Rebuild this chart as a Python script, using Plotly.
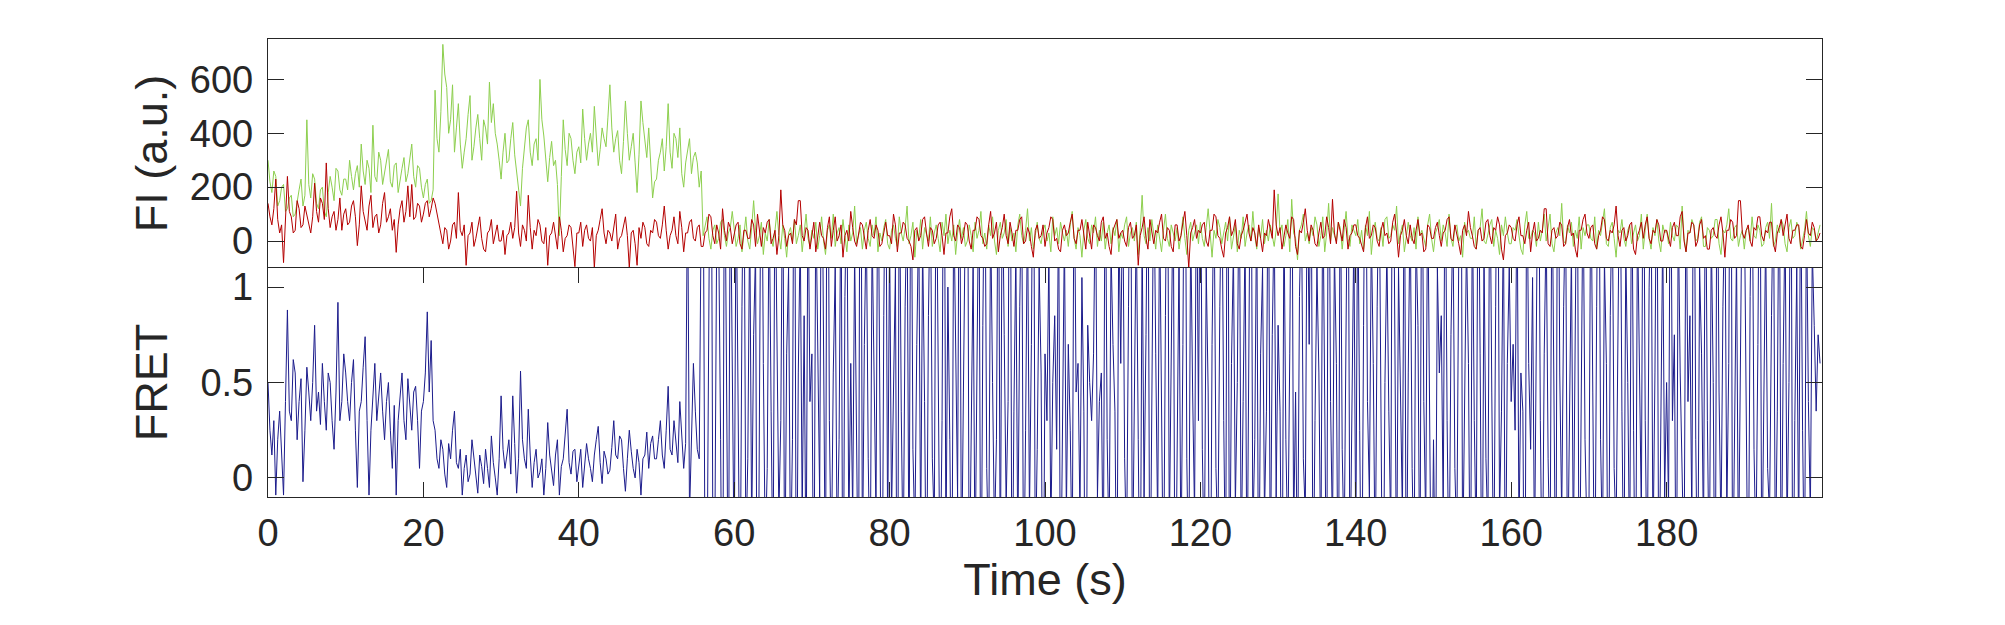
import plotly.graph_objects as pgo
from plotly.subplots import make_subplots

# ========= smFRET trace: donor / acceptor intensity + FRET efficiency =========
# values, one frame every 0.25 s (4 rows = 10 s)
frame_dt = 0.25
n_frames = 800
time_s = [i * frame_dt for i in range(n_frames)]

# donor (green) intensity, a.u.
fi_donor = [
    # 0-10 s
    300, 220, 180, 260, 240, 130, 150, 200, 210, 110,
    120, 160, 170, 90, 100, 150, 190, 230, 130, 170,
    450, 210, 160, 250, 230, 140, 120, 190, 200, 110,
    90, 180, 240, 200, 150, 270, 260, 190, 170, 230,
    # 10-20 s
    230, 190, 300, 240, 190, 250, 280, 200, 360, 260,
    210, 300, 270, 180, 430, 240, 220, 330, 300, 210,
    250, 290, 340, 220, 200, 280, 290, 180, 230, 270,
    310, 220, 250, 300, 360, 240, 200, 280, 270, 200,
    # 20-30 s
    160, 210, 230, 140, 150, 190, 560, 380, 330, 480,
    730, 620, 570, 400, 450, 580, 330, 420, 510, 360,
    270, 330, 380, 470, 540, 300, 350, 420, 470, 380,
    300, 450, 420, 360, 590, 440, 510, 400, 360, 300,
    # 30-40 s
    230, 330, 400, 290, 300, 380, 440, 320, 260, 200,
    130, 270, 350, 420, 450, 330, 280, 360, 380, 300,
    600, 450, 390, 300, 220, 310, 370, 280, 300, 210,
    20, 240, 450, 340, 280, 400, 380, 300, 250, 330,
    # 40-50 s
    350, 290, 490, 380, 300, 360, 400, 330, 500, 390,
    280, 340, 420, 380, 350, 460, 580, 420, 330, 380,
    410, 300, 250, 370, 520, 400, 300, 350, 400, 290,
    180, 320, 520, 440, 370, 310, 420, 300, 160, 220,
    # 50-60 s
    230, 300, 330, 380, 260, 350, 510, 330, 270, 400,
    380, 310, 420, 250, 200, 290, 340, 380, 250, 310,
    330, 290, 200, 260, 20, 60, 90, 10, -30, 40,
    60, -10, 10, 70, 80, 20, -20, 30, 50, 110,
    # 60-70 s
    30, -20, 10, 60, -40, 20, 90, 0, -30, 50,
    150, 40, -10, 20, 70, -50, 30, 0, 80, 10,
    -20, 40, 110, 20, -30, 60, 10, -60, 30, 50,
    0, 80, -10, 20, 60, -40, 30, 100, 10, -20,
    # 70-80 s
    40, 10, 70, -30, 20, 90, 0, -50, 40, 60,
    10, 100, -20, 30, 50, -10, 80, 20, -40, 60,
    0, 30, 130, -10, 20, 50, -30, 40, 70, 10,
    -20, 60, 20, 90, -40, 30, 0, 50, 80, -10,
    # 80-90 s
    -30, 40, 60, 10, -20, 90, 30, 0, 50, 130,
    -10, 20, 70, -60, 40, 10, 80, -30, 50, 20,
    0, 90, -20, 30, 60, 10, -40, 70, 20, 100,
    -10, 40, 0, 60, -50, 30, 80, 10, 50, -20,
    # 90-100 s
    0, 60, 20, -40, 70, 10, 40, 110, -10, 30,
    -30, 60, 20, 90, 0, -50, 40, 70, 10, 30,
    80, -20, 50, 0, 30, -40, 60, 100, 20, -10,
    40, 120, 0, 50, -30, 20, 70, 10, -10, 40,
    # 100-110 s
    60, 0, 30, -40, 90, 20, 50, -10, 70, 30,
    0, 40, -20, 60, 110, 10, -30, 50, 20, -60,
    40, 80, 10, -10, 60, 30, 90, -20, 40, 0,
    70, -30, 30, 60, -10, 50, 20, 80, -40, 30,
    # 110-120 s
    10, 60, 90, -20, 30, 50, 0, 70, -50, 40,
    170, 20, -10, 50, 0, 80, 30, -30, 60, 10,
    -40, 40, 100, 10, -20, 60, 30, 0, 50, -30,
    20, 90, 10, -50, 40, 70, 0, 30, 60, -10,
    # 120-130 s
    70, 10, -20, 50, 120, 30, -60, 40, 10, 80,
    50, -10, 30, 70, 0, 90, -30, 20, 60, -40,
    40, 10, 90, -20, 30, 60, 0, 110, 20, -30,
    50, 10, 80, -10, 40, 0, 60, 20, -20, 40,
    # 130-140 s
    175, 30, 60, -20, 20, 80, -40, 155, 30, 10,
    -70, 40, 60, 100, 0, 30, -10, 50, 20, 90,
    60, -20, 20, 90, -40, 30, 140, 0, 50, 20,
    0, 70, 50, -30, 30, 110, 10, -20, 60, 40,
    # 140-150 s
    20, 80, -10, 40, -30, 60, 20, 110, -50, 30,
    70, 10, 0, 50, -20, 80, 90, 10, 20, 60,
    40, 130, -10, 30, 60, -40, 10, 70, 20, 0,
    50, -30, 90, 20, 40, 10, -20, 60, 100, 10,
    # 150-160 s
    -40, 30, 50, 80, 0, 60, 30, -20, 100, 10,
    -20, 50, 60, 0, 20, -60, 70, 30, 40, 10,
    10, 90, -30, 40, 50, 120, 0, -10, 30, 60,
    80, -20, 40, 10, -50, 60, 20, 90, 30, -10,
    # 160-170 s
    -10, 50, 40, 80, 20, -30, -50, 60, 110, 10,
    10, 40, 30, -20, 70, 0, 40, 100, 0, 50,
    100, -10, -40, 30, 50, 20, 140, 0, -10, 60,
    30, 70, -20, 40, 10, 90, -30, 50, 20, 60,
    # 170-180 s
    60, 10, 0, 90, -30, 40, 20, 70, 120, -10,
    -20, 50, 70, 10, -60, 40, 30, 80, 10, -20,
    40, 60, -10, 30, 60, 0, 20, 100, -30, 40,
    100, 10, -30, 50, 20, 80, 0, -40, 60, 30,
    # 180-190 s
    40, -10, 70, 20, 0, 60, 50, -30, 130, 10,
    -40, 40, 30, 80, 60, 0, 10, 70, 90, -20,
    -20, 50, 40, 10, 20, 80, 80, -10, -50, 40,
    30, 60, 120, 10, 0, 50, 60, -20, 20, 40,
    # 190-200 s
    -30, 40, 50, 0, 90, 20, 10, 60, 40, -20,
    -10, 50, 70, 10, 140, -20, 0, 60, 30, 80,
    60, -10, -40, 50, 80, 10, 20, 70, 50, -30,
    0, 40, 110, 20, -20, 50, 40, 0, 30, 60,
]

# acceptor (red) intensity, a.u.
fi_acceptor = [
    # 0-10 s
    140, 90, 60, 120, 230, 80, 30, 60, -80, 100,
    240, 110, 90, 30, 40, 150, 120, 50, 60, 130,
    100, 70, 30, 90, 215, 110, 70, 160, 140, 80,
    290, 120, 50, 90, 110, 40, 80, 160, 40, 100,
    # 10-20 s
    120, 60, 70, 130, 150, 90, -17, 60, 205, 110,
    80, 40, 130, 170, 50, 90, 100, 30, 60, 140,
    180, 70, 90, 120, 40, 80, -42, 60, 120, 150,
    70, 110, 205, 90, 210, 80, 90, 140, 130, 70,
    # 20-30 s
    100, 140, 150, 90, 120, 160, 140, 100, 60, 20,
    -10, 50, 40, -30, 0, 60, 70, 10, 180, 40,
    20, 60, -90, 20, 30, 70, -20, 10, 50, 90,
    10, -30, -40, 30, 40, 80, -10, 20, 60, 0,
    # 30-40 s
    0, 40, -50, 20, 30, 70, 10, 50, 185, 30,
    -20, 60, 40, 0, 170, 50, -30, 40, 20, 80,
    60, 0, -10, 50, -90, 20, 30, 70, 10, -30,
    90, 40, -40, 10, 20, 60, 50, -20, -95, 30,
    # 40-50 s
    30, 70, -20, 40, 60, 10, 0, 50, -100, 20,
    40, 80, 120, 30, -10, 40, 30, 0, 60, 100,
    -30, 10, 20, 60, 90, 20, -100, 30, 40, -10,
    -90, 50, 10, 70, 50, -10, -20, 40, 30, 80,
    # 50-60 s
    70, 20, 10, 60, 130, 40, -30, 20, 40, 90,
    20, -10, 110, 50, -40, 30, 30, 70, 80, 10,
    0, 50, 60, -20, -20, 30, 40, 100, 90, 20,
    -10, 60, 30, -30, 120, 40, 0, 70, 50, -10,
    # 60-70 s
    20, 60, 70, -10, -30, 40, 40, 10, 10, 80,
    60, -20, 100, 30, -20, 50, 30, 70, 80, -10,
    10, 40, -50, 20, 190, 60, 40, -20, 20, 30,
    -10, 80, 60, 150, 150, 20, 0, 50, 40, -30,
    # 70-80 s
    30, 70, -40, 10, 70, 20, 10, -30, 50, 90,
    -20, 40, 90, 0, 20, 60, -60, 20, 40, 0,
    110, 50, 0, -20, 30, 70, 60, 10, -30, 40,
    80, 20, 10, 60, 40, -20, -10, 30, 70, 20,
    # 80-90 s
    20, -10, 100, 60, -40, 30, 30, 70, 60, 10,
    0, -20, -70, 40, 50, 0, 20, 80, 90, 30,
    -20, 50, 40, -10, 10, 60, 70, 20, -50, 30,
    30, 90, 120, 20, 0, 60, 50, -10, 20, 70,
    # 90-100 s
    60, 0, -30, 40, 40, 90, 80, 20, 10, -20,
    -10, 60, 110, 10, 30, 70, -40, 20, 50, 100,
    20, -10, 70, 30, -20, 40, 40, 80, 90, -10,
    0, 50, 30, -20, -60, 40, 60, 10, 20, 60,
    # 100-110 s
    -20, 30, 50, 90, 80, 0, 10, -30, -40, 40,
    60, 20, 30, 70, 100, 10, -10, 40, 40, 80,
    20, -30, 70, 10, -30, 60, 50, 20, 0, 70,
    90, 10, 30, -20, -50, 40, 60, 80, 10, 30,
    # 110-120 s
    40, 0, -20, 50, 70, 10, 20, 60, -90, 20,
    50, 90, 10, -30, 80, 30, -10, 40, 30, 70,
    100, 10, 0, 50, 40, -20, -40, 60, 60, 0,
    20, 70, 110, 20, -100, 30, 50, 80, 10, 40,
    # 120-130 s
    30, 60, 70, 0, -20, 40, 40, 100, 90, 20,
    10, -30, -60, 30, 50, 90, 20, 40, 80, -10,
    -30, 20, 40, 70, 100, 30, 0, 50, 30, -20,
    60, 10, -40, 30, 20, 80, 50, 10, 190, 60,
    # 130-140 s
    20, 50, -30, 10, 60, 30, 10, 90, 80, -20,
    -50, 40, 30, 70, 120, 40, 0, 60, 40, -10,
    -20, 30, 70, 10, 20, 90, 50, -10, 155, 30,
    -10, 70, 40, 0, 80, 50, -30, 20, 30, 60,
    # 140-150 s
    60, 20, 10, -20, -40, 50, 90, 10, 20, 60,
    50, 0, -20, 40, 70, 20, 30, -10, 0, 70,
    100, 30, -60, 20, 40, 80, 20, -10, 60, 10,
    -10, 40, 80, 20, 30, -40, -30, 60, 50, 10,
    # 150-160 s
    10, 50, 70, 20, -20, 30, 40, 80, 90, 10,
    0, 60, 30, -10, -50, 40, 60, 20, 110, 50,
    20, -20, -30, 40, 50, 0, 10, 70, 80, 20,
    -10, 50, 40, 90, 60, -30, -70, 20, 30, 60,
    # 160-170 s
    50, 10, 0, 60, 90, 20, 20, -10, 40, 70,
    -40, 30, 70, 0, 10, 40, 30, 120, 120, -10,
    -20, 40, 50, 10, 20, 70, 60, -20, -10, 50,
    80, 20, 30, -30, -60, 40, 40, 80, 100, 30,
    # 170-180 s
    10, 50, 60, -10, -30, 20, 40, 90, 80, 10,
    0, 40, 30, 60, 130, 20, -20, 40, 50, 0,
    20, 60, 70, -30, -50, 20, 40, 70, 10, 60,
    90, 10, -10, 40, 30, 80, 60, 0, 0, 40,
    # 180-190 s
    40, 10, -20, 50, 70, 20, 20, 90, 110, 0,
    -40, 30, 30, 70, 60, -20, 0, 60, 80, 10,
    20, -30, -30, 40, 50, 20, 10, 60, 90, 30,
    -60, 40, 40, 80, 70, 10, 20, 150, 150, 30,
    # 190-200 s
    10, 40, 60, 0, -20, 50, 40, 90, 90, 20,
    0, 40, 30, 70, 70, -10, -40, 30, 50, 80,
    20, 60, 100, 10, -10, 40, 40, 60, 60, -20,
    -30, 20, 80, 30, 20, 70, 50, 0, 10, 30,
]

# apparent FRET efficiency (blue)
fret = [
    # 0-10 s
    0.50, 0.25, 0.12, 0.30, -0.09, 0.20, 0.35, 0.10, -0.09, 0.40,
    0.88, 0.35, 0.30, 0.62, 0.55, 0.20, 0.40, 0.52, -0.02, 0.25,
    0.58, 0.45, 0.30, 0.50, 0.80, 0.35, 0.45, 0.28, 0.60, 0.40,
    0.25, 0.55, 0.50, 0.30, 0.15, 0.45, 0.92, 0.30, 0.40, 0.65,
    # 10-20 s
    0.55, 0.40, 0.30, 0.50, 0.62, 0.25, -0.05, 0.35, 0.40, 0.58,
    0.74, 0.30, -0.09, 0.25, 0.45, 0.60, 0.30, 0.42, 0.55, 0.35,
    0.20, 0.40, 0.50, 0.25, 0.05, 0.38, -0.09, 0.30, 0.45, 0.55,
    0.30, 0.20, 0.52, 0.40, 0.25, 0.45, 0.48, 0.30, 0.05, 0.35,
    # 20-30 s
    0.40, 0.55, 0.87, 0.45, 0.72, 0.30, 0.25, 0.10, 0.05, 0.20,
    0.15, 0.02, -0.05, 0.18, 0.10, 0.25, 0.35, 0.08, 0.05, 0.15,
    -0.09, 0.05, 0.12, -0.02, 0.02, 0.20, 0.10, 0.00, -0.08, 0.12,
    0.06, -0.03, 0.15, 0.05, -0.05, 0.22, 0.08, 0.00, -0.09, 0.10,
    # 30-40 s
    0.43, 0.15, 0.05, 0.12, 0.20, 0.02, 0.43, 0.18, -0.08, 0.10,
    0.56, 0.20, 0.10, 0.05, 0.36, 0.12, -0.05, 0.08, 0.15, 0.00,
    0.03, 0.10, -0.09, 0.05, 0.29, 0.12, 0.05, -0.04, 0.12, 0.20,
    -0.09, 0.06, 0.10, 0.25, 0.36, 0.08, 0.02, 0.14, 0.15, -0.02,
    # 40-50 s
    0.08, 0.15, -0.05, 0.06, 0.18, 0.10, 0.05, -0.02, 0.12, 0.20,
    0.27, 0.08, -0.03, 0.14, 0.10, 0.02, 0.04, 0.16, 0.30, 0.12,
    0.10, 0.22, 0.20, 0.05, -0.07, 0.10, 0.25, 0.14, 0.05, 0.00,
    0.15, 0.08, -0.09, 0.10, 0.12, 0.24, 0.05, 0.18, 0.22, 0.10,
    # 50-60 s
    0.10, 0.20, 0.30, 0.12, 0.05, 0.25, 0.48, 0.15, 0.12, 0.30,
    0.20, 0.08, 0.40, 0.22, 0.05, 0.18, 1.60, -0.20, 0.25, 0.60,
    0.35, 0.15, 0.10, 1.40, 1.80, -0.60, -0.60, 0.70, 2.50, -0.30,
    -0.40, 1.30, 1.30, 0.20, -1.20, 2.00, 0.40, -0.80, 1.70, 0.60,
    # 60-70 s
    -0.50, 1.60, 0.30, -0.80, 0.90, 1.90, -0.40, 0.10, 1.40, -0.30,
    0.75, 1.20, -1.50, 0.45, 2.20, 0.60, -0.40, 0.05, 1.50, 0.35,
    -0.60, 1.70, 0.80, -0.20, 0.30, 1.80, -0.70, 0.65, 1.10, -0.50,
    0.20, 2.40, -1.00, 0.55, 1.30, -0.20, 0.85, -0.60, 1.60, 0.40,
    # 70-80 s
    0.65, -0.90, 1.50, 0.80, -0.10, 2.10, 0.40, -0.70, 2.80, 0.30,
    -0.50, 0.55, 1.10, -0.40, 0.20, 1.70, -1.10, 0.95, 1.60, -0.30,
    0.60, -0.20, 1.20, 0.25, -0.80, 3.00, -0.50, 0.70, 1.40, 0.10,
    -0.60, 1.30, 0.45, -0.20, 1.90, 0.50, -1.20, 0.85, 2.00, -0.35,
    # 80-90 s
    1.30, -0.20, 0.50, 1.10, -1.40, 1.80, 0.35, -0.50, 0.90, 1.50,
    -0.60, 2.10, 0.15, -0.30, 0.70, 1.40, -0.35, 1.25, 0.40, -0.80,
    0.85, 1.60, 0.10, -0.25, 1.90, 0.55, -0.70, 0.30, 2.40, -0.40,
    1.00, 0.20, -0.90, 1.50, 0.65, -0.10, 2.20, -0.60, 0.45, 1.30,
    # 90-100 s
    2.40, -0.70, 0.30, 1.15, -0.50, 0.60, 1.70, -1.00, 0.80, 1.90,
    0.05, -0.45, 1.40, 0.50, -0.30, 0.20, 2.00, -0.60, 1.70, 0.75,
    -0.15, 0.40, 2.60, -0.90, 0.35, 1.20, -0.40, 0.90, 1.60, -0.70,
    0.25, 1.45, -0.20, 0.70, 2.30, -0.50, 0.15, 1.10, 0.55, -1.10,
    # 100-110 s
    0.65, 0.30, 1.20, -0.30, 0.50, 0.85, 0.15, 1.50, -0.80, 0.40,
    1.30, -0.20, 0.70, 0.25, -0.50, 1.80, 0.45, 0.60, -0.20, 1.05,
    0.35, -1.30, 0.80, 0.50, 0.30, 0.65, 1.60, -0.10, 0.40, 0.55,
    -0.60, 1.90, 0.20, -0.40, 1.20, 0.70, 0.35, -0.80, 1.40, 0.60,
    # 110-120 s
    1.60, 0.10, -0.40, 0.90, 2.30, -0.60, 0.55, 1.40, 0.20, -0.90,
    1.30, -0.10, 0.75, 1.90, -0.90, 0.40, 1.70, 0.65, -0.25, 1.45,
    0.30, -0.70, 0.85, 2.10, -0.30, 0.50, 1.60, -1.00, 0.25, 1.20,
    -0.50, 0.70, 2.50, 0.10, -0.60, 1.35, 0.45, -0.20, 1.80, 0.30,
    # 120-130 s
    2.00, 0.15, -0.50, 1.10, 0.45, -1.20, 0.70, 1.60, 0.05, -0.35,
    0.90, 1.70, 0.30, -0.60, 2.50, -0.80, 0.60, 1.20, -0.15, 0.50,
    1.75, -0.45, 0.40, 1.30, -0.70, 0.85, 2.20, -0.30, 0.20, 1.50,
    -0.90, 0.65, 1.10, -0.20, 0.35, 1.90, -0.60, 0.75, 1.40, -0.10,
    # 130-140 s
    0.80, 0.35, -1.00, 1.40, 0.20, -0.40, 0.65, 2.10, -0.30, 0.45,
    -0.60, 0.95, 1.50, 0.10, -0.20, 1.70, 0.70, 1.85, -0.75, 0.30,
    1.10, 0.55, -0.50, 1.60, 0.25, -0.80, 2.30, 0.40, -0.30, 1.20,
    0.60, -0.90, 1.80, 0.15, -0.40, 0.90, 2.00, -0.60, 0.50, 1.30,
    # 140-150 s
    -0.40, 1.60, 0.25, -0.90, 0.80, 2.20, 0.40, -0.10, 1.30, 0.60,
    -0.55, 0.90, 1.70, 0.15, -1.10, 0.50, 1.20, 0.35, -0.30, 2.40,
    0.70, -0.60, 1.10, 0.30, -0.20, 1.90, -0.80, 0.55, 1.45, 0.05,
    -0.50, 1.30, 0.80, -0.70, 2.10, 0.40, -0.25, 1.60, 0.20, -0.90,
    # 150-160 s
    0.20, -0.70, 1.10, 0.55, 0.85, -0.20, 1.90, 0.30, -0.60, 0.75,
    1.40, 0.05, -0.35, 0.95, 2.70, -0.50, 0.45, 1.25, 0.60, -0.85,
    1.50, 0.30, -0.40, 2.00, 0.65, -0.90, 1.20, 0.10, -0.30, 1.80,
    0.45, -0.60, 0.90, 2.30, -0.20, 0.35, 1.40, -0.75, 0.60, 1.10,
    # 160-170 s
    0.40, 0.70, 0.25, 1.60, -0.30, 0.55, 0.35, -1.20, 1.80, 0.60,
    0.15, 1.05, -0.45, 0.80, 2.10, 0.30, -0.70, 0.65, 1.35, 0.10,
    -0.50, 1.70, 0.40, -0.80, 2.40, 0.55, -0.20, 0.90, 1.50, -0.60,
    0.30, 1.20, -0.40, 0.75, 2.00, -0.90, 0.45, 1.60, 0.20, -0.30,
    # 170-180 s
    -0.25, 1.70, 0.45, -0.80, 0.90, 2.30, 0.20, -0.40, 1.15, 0.60,
    -1.00, 0.85, 1.55, 0.05, -0.30, 0.70, 1.90, 0.35, -0.65, 1.20,
    0.50, -0.50, 1.80, 0.25, -0.90, 1.40, 0.65, -0.20, 2.20, 0.30,
    -0.60, 1.00, 1.60, -0.40, 0.55, 2.00, -0.80, 0.40, 1.30, -0.10,
    # 180-190 s
    0.50, -0.15, 2.00, 0.30, 0.75, -0.90, 1.40, 0.55, 0.10, -0.50,
    1.65, 0.40, 0.85, -0.25, 2.40, 0.20, -0.70, 1.10, 0.65, -0.35,
    1.80, 0.30, -0.60, 1.30, 0.50, -1.00, 2.10, 0.45, -0.30, 0.90,
    1.50, -0.20, 0.60, 2.60, -0.70, 0.35, 1.20, -0.50, 0.80, 1.70,
    # 190-200 s
    1.50, 0.30, -0.80, 0.95, 1.80, 0.15, -0.40, 0.70, 2.20, -0.60,
    0.45, 1.30, 0.05, -0.20, 0.85, 1.60, -0.50, 0.35, 1.90, -0.70,
    0.60, 1.40, -0.30, 0.50, 2.00, -0.90, 0.30, 1.10, -0.40, 1.70,
    0.25, -0.60, 1.50, 0.40, -0.20, 1.20, 0.80, 0.35, 0.75, 0.60,
]

x_ticks = [0, 20, 40, 60, 80, 100, 120, 140, 160, 180]
fi_ticks = [0, 200, 400, 600]
fret_ticks = [0, 0.5, 1]
fret_ticktext = ["0", "0.5", "1"]

ink = "#262626"

# 2 rows 1 col, panels glued together (no gap)
fig = make_subplots(rows=2, cols=1, shared_xaxes=True, vertical_spacing=0)

fig.add_trace(pgo.Scatter(x=time_s, y=fi_donor, mode="lines", name="Donor",
                          line=dict(color="#8dcf4e", width=1)), row=1, col=1)
fig.add_trace(pgo.Scatter(x=time_s, y=fi_acceptor, mode="lines", name="Acceptor",
                          line=dict(color="#b40000", width=1)), row=1, col=1)
fig.add_trace(pgo.Scatter(x=time_s, y=fret, mode="lines", name="FRET",
                          line=dict(color="#1c1c8c", width=1)), row=2, col=1)

# common axis look (box, no grid); automargin off so the plot box stays put
box = dict(showline=True, linecolor=ink, linewidth=1.3, showgrid=False, zeroline=False,
           tickcolor=ink, tickwidth=1.3, automargin=False)

fig.update_layout(
    width=2005, height=625,
    margin=dict(l=260, r=191, t=31, b=136),
    paper_bgcolor="white", plot_bgcolor="white",
    showlegend=False,
    font=dict(family="Liberation Sans, Arial, sans-serif", size=38, color=ink),
    # top panel x: only the top frame line, the shared edge comes from xaxis2
    xaxis=dict(box, range=[0, 200], side="top", mirror=False, ticks="", showticklabels=False),
    xaxis2=dict(box, range=[0, 200], mirror="ticks", ticks="inside", ticklen=15,
                tickvals=x_ticks, ticklabelstandoff=2,
                title=dict(text="Time (s)", font=dict(size=45), standoff=2)),
    yaxis=dict(box, range=[-100, 750], mirror="ticks", ticks="inside", ticklen=16,
               tickvals=fi_ticks, ticklabelstandoff=6,
               title=dict(text="FI (a.u.)", font=dict(size=45), standoff=8)),
    yaxis2=dict(box, range=[-0.1, 1.1], mirror="ticks", ticks="inside", ticklen=16,
                tickvals=fret_ticks, ticktext=fret_ticktext, ticklabelstandoff=6,
                title=dict(text="FRET", font=dict(size=45), standoff=18)),
)

fig.write_html("out.html")
